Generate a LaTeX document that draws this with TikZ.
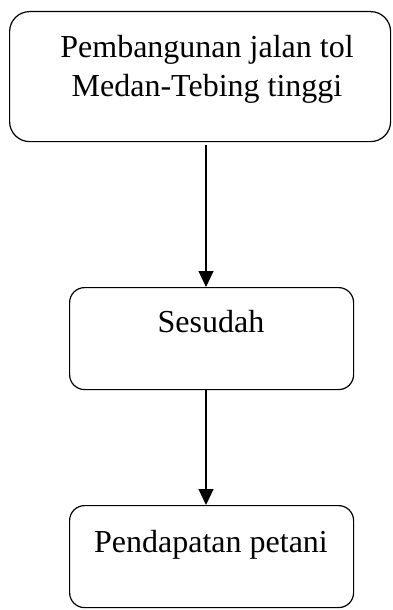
\documentclass[tikz,border=0pt]{standalone}
\usepackage{fontspec}
\setmainfont{Liberation Serif}
\usetikzlibrary{arrows.meta,calc}
\tikzset{
  flowbox/.style={draw, line width=1.2pt, rectangle, anchor=north west, inner sep=0pt},
  boxtext/.style={anchor=base, align=center, inner sep=0pt, font=\fontsize{32}{39}\selectfont},
  flowarrow/.style={line width=1.2pt, -{Triangle[length=16pt,width=15pt]}}
}
\begin{document}
\begin{tikzpicture}[x=1pt,y=-1pt]
\useasboundingbox (0,0) rectangle (392,610);
\node[flowbox, rounded corners=20pt, minimum width=381pt, minimum height=130pt] (top) at (9,11) {};
\node[flowbox, rounded corners=15pt, minimum width=284pt, minimum height=102pt] (mid) at (69,287) {};
\node[flowbox, rounded corners=15pt, minimum width=284pt, minimum height=102pt] (bot) at (69,505) {};
\node[boxtext] (t1) at (207,96) {Pembangunan jalan tol\\Medan-Tebing tinggi};
\node[boxtext] (t2) at (211,332) {Sesudah};
\node[boxtext] (t3) at (211,552) {Pendapatan petani};
\coordinate (a1s) at (206,145);
\draw[flowarrow] (a1s) -- (a1s |- mid.north);
\draw[flowarrow] (mid.south -| a1s) -- (a1s |- bot.north);
\end{tikzpicture}
\end{document}
